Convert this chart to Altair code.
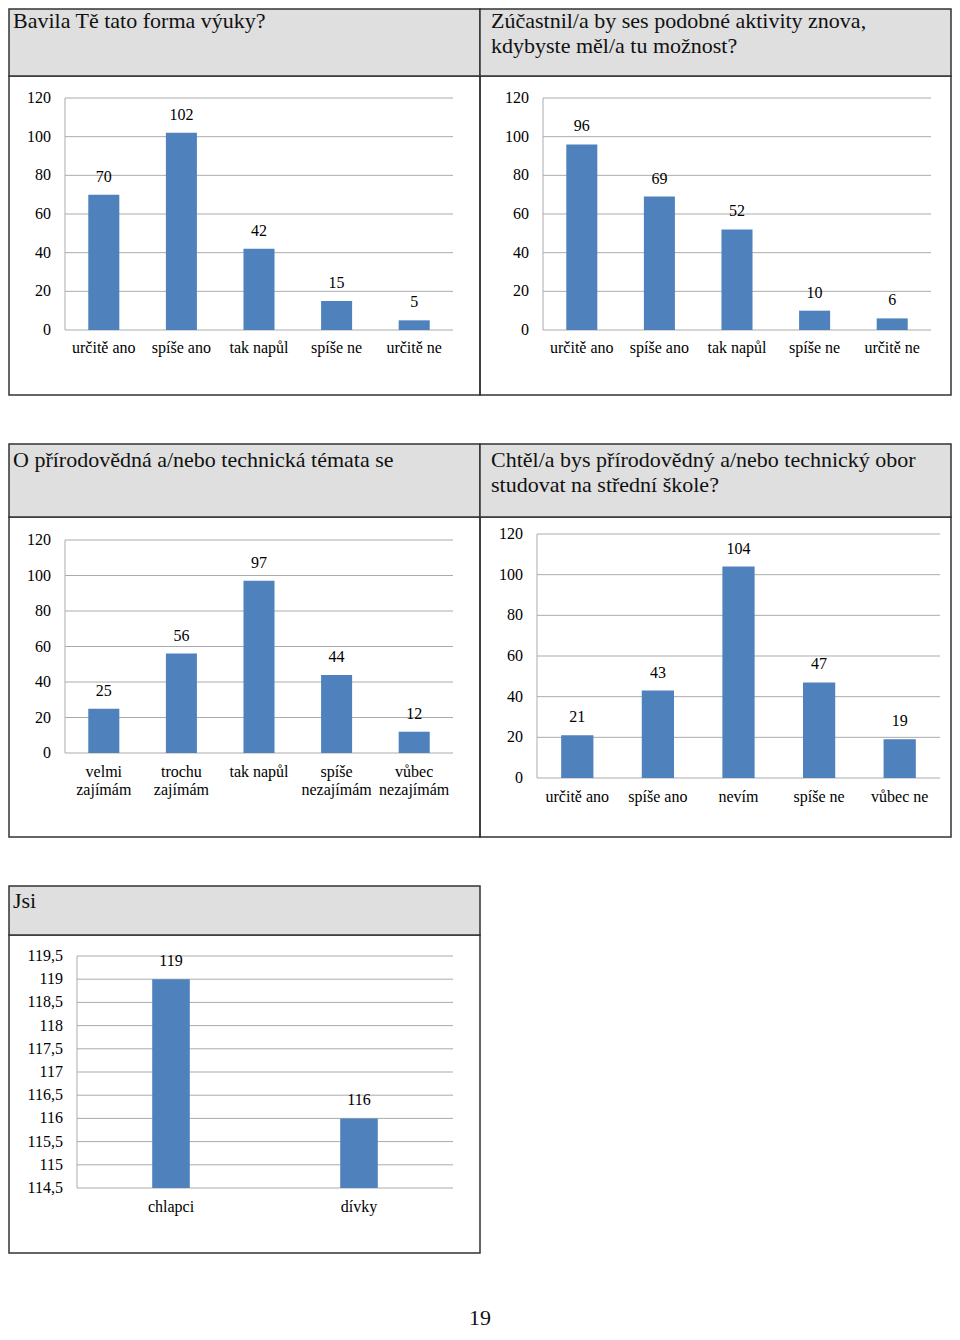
import altair as alt
import pandas as pd

FONT = "Liberation Serif"
BLUE = "#4F81BD"
GRID = "#ababab"
BORDER = "#333333"
HEADER = "#dfdfdf"
O = 8  # page margin: chart origin sits at page (8, 8)

# ---- data ----
p1_title = ["Bavila Tě tato forma výuky?"]
p1_cats = ["určitě ano", "spíše ano", "tak napůl", "spíše ne", "určitě ne"]
p1_vals = [70, 102, 42, 15, 5]

p2_title = ["Zúčastnil/a by ses podobné aktivity znova,", "kdybyste měl/a tu možnost?"]
p2_cats = ["určitě ano", "spíše ano", "tak napůl", "spíše ne", "určitě ne"]
p2_vals = [96, 69, 52, 10, 6]

p3_title = ["O přírodovědná a/nebo technická témata se"]
p3_cats = ["velmi\nzajímám", "trochu\nzajímám", "tak napůl", "spíše\nnezajímám", "vůbec\nnezajímám"]
p3_vals = [25, 56, 97, 44, 12]

p4_title = ["Chtěl/a bys přírodovědný a/nebo technický obor", "studovat na střední škole?"]
p4_cats = ["určitě ano", "spíše ano", "nevím", "spíše ne", "vůbec ne"]
p4_vals = [21, 43, 104, 47, 19]

p5_title = ["Jsi"]
p5_cats = ["chlapci", "dívky"]
p5_vals = [119, 116]

ticks_120 = [0, 20, 40, 60, 80, 100, 120]
tick_labels_120 = ["0", "20", "40", "60", "80", "100", "120"]
ticks_p5 = [114.5, 115, 115.5, 116, 116.5, 117, 117.5, 118, 118.5, 119, 119.5]
tick_labels_p5 = ["114,5", "115", "115,5", "116", "116,5", "117", "117,5",
                  "118", "118,5", "119", "119,5"]
page_number = "19"


def panel(cats, vals, title, plot_x, plot_y, ydomain, yticks, ylabels,
          box, title_xy, xlab_y, pin=0.6, pout=0.3):
    """plot_x=(left,right), plot_y=(y of domain min, y of domain max), page pixels."""
    df = pd.DataFrame({"cat": cats, "val": vals})
    tdf = pd.DataFrame({"val": yticks, "lab": ylabels})
    one = alt.Chart(pd.DataFrame({"k": [0]}))
    bx0, bx1, by0, hy, by1 = [v - O for v in box]
    x0, x1 = plot_x[0] - O, plot_x[1] - O
    yb, yt = plot_y[0] - O, plot_y[1] - O

    def X():
        return alt.X("cat:N", axis=None,
                     scale=alt.Scale(domain=cats, range=[x0, x1],
                                     paddingInner=pin, paddingOuter=pout))

    def Y():
        return alt.Y("val:Q", axis=None,
                     scale=alt.Scale(domain=ydomain, range=[yb, yt], nice=False, zero=False))

    body = one.mark_rect(filled=False, stroke=BORDER, strokeWidth=1.5).encode(
        x=alt.value(bx0), x2=alt.value(bx1), y=alt.value(hy), y2=alt.value(by1))
    head = one.mark_rect(fill=HEADER, stroke=BORDER, strokeWidth=1.5).encode(
        x=alt.value(bx0), x2=alt.value(bx1), y=alt.value(by0), y2=alt.value(hy))
    ttl = one.mark_text(align="left", baseline="alphabetic", font=FONT, fontSize=22,
                        lineHeight=25, color="#111111").encode(
        x=alt.value(title_xy[0] - O), y=alt.value(title_xy[1] - O), text=alt.value(title))

    grid = alt.Chart(tdf).mark_rule(color=GRID, strokeWidth=1).encode(
        y=Y(), x=alt.value(x0), x2=alt.value(x1))
    yline = one.mark_rule(color=GRID, strokeWidth=1).encode(
        x=alt.value(x0), y=alt.value(yt), y2=alt.value(yb))
    ytext = alt.Chart(tdf).mark_text(align="right", baseline="middle", font=FONT,
                                     fontSize=16, color="black").encode(
        y=Y(), x=alt.value(x0 - 14), text=alt.Text("lab:N"))

    bars = alt.Chart(df).mark_bar(color=BLUE).encode(
        x=X(), y=Y(), y2=alt.Y2(datum=ydomain[0]))
    vlab = alt.Chart(df).mark_text(dy=-18, baseline="middle", font=FONT, fontSize=16,
                                   color="black").encode(x=X(), y=Y(), text=alt.Text("val:Q"))
    xtext = alt.Chart(df).mark_text(baseline="top", align="center", lineBreak="\n",
                                    lineHeight=18, font=FONT, fontSize=16,
                                    color="black").encode(
        x=X(), y=alt.value(xlab_y - O), text=alt.Text("cat:N"))
    return [body, head, ttl, grid, yline, ytext, bars, vlab, xtext]


layers = []
layers += panel(p1_cats, p1_vals, p1_title, (65, 453), (330, 98), [0, 120],
                ticks_120, tick_labels_120, (9, 480, 9, 76, 395), (13, 28), 340)
layers += panel(p2_cats, p2_vals, p2_title, (543, 931), (330, 98), [0, 120],
                ticks_120, tick_labels_120, (480, 951, 9, 76, 395), (491, 28), 340)
layers += panel(p3_cats, p3_vals, p3_title, (65, 453), (753, 540), [0, 120],
                ticks_120, tick_labels_120, (9, 480, 444, 517, 837), (13, 467), 764)
layers += panel(p4_cats, p4_vals, p4_title, (537, 940), (778, 534), [0, 120],
                ticks_120, tick_labels_120, (480, 951, 444, 517, 837), (491, 467), 789)
layers += panel(p5_cats, p5_vals, p5_title, (77, 453), (1188, 956), [114.5, 119.5],
                ticks_p5, tick_labels_p5, (9, 480, 886, 935, 1253), (13, 908), 1199,
                pin=0.8, pout=0.4)

page = alt.Chart(pd.DataFrame({"k": [0]})).mark_text(
    align="center", baseline="alphabetic", font=FONT, fontSize=22, color="#111111").encode(
    x=alt.value(480 - O), y=alt.value(1325 - O), text=alt.value(page_number))
layers.append(page)

chart = alt.layer(*layers).resolve_scale(
    x="independent", y="independent"
).properties(
    width=944, height=1322, autosize=alt.AutoSizeParams(type="none"), padding=0
).configure(font=FONT).configure_view(stroke=None)

chart.save("out.html", embed_options={"renderer": "svg", "actions": False})
